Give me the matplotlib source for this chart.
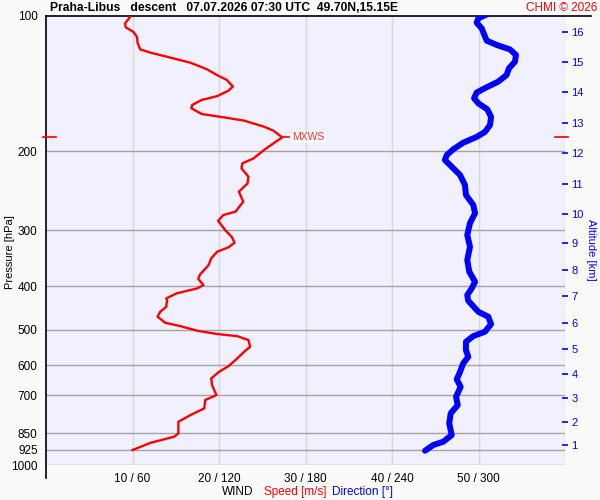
import numpy as np
import matplotlib
matplotlib.use('Agg')
import matplotlib.pyplot as plt
import matplotlib.transforms as mtransforms
from matplotlib.lines import Line2D

plt.rcParams['font.family'] = ['Liberation Sans', 'DejaVu Sans']

# wind speed profile (red)
speed_p = [100, 103.8, 105.9, 108.5, 111.2, 115.0, 118.7, 120.7, 123.8, 127.1,
           131.4, 135.5, 138.8, 143.6, 146.6, 150.8, 153.8, 157.8, 160.5, 165.3,
           168.1, 171.0, 176.4, 180.1, 186.3, 192.1, 198.8, 207.5, 212.9, 218.4,
           228.0, 235.9, 246.2, 259.2, 272.8, 277.5, 285.7, 299.7, 311.0, 319.8,
           327.4, 334.9, 346.5, 358.6, 376.6, 385.0, 397.4, 404.2, 414.7, 425.5,
           429.2, 444.2, 455.8, 467.6, 482.3, 490.5, 502.4, 510.9, 516.3, 527.0,
           545.5, 559.6, 584.0, 602.3, 620.1, 641.6, 664.0, 698.6, 716.7, 747.9,
           774.1, 801.1, 850.5, 865.1, 892.3, 926.2]
speed = [9.8, 9.15, 9.2, 10.1, 10.5, 10.6, 10.9, 12.1, 14.4, 16.7,
         18.6, 19.8, 20.9, 21.6, 21.1, 19.8, 18.0, 16.9, 16.8, 18.0,
         20.5, 22.9, 25.2, 26.3, 27.3, 26.3, 25.2, 24.0, 22.7, 22.6,
         23.4, 23.3, 22.3, 22.8, 21.9, 20.5, 19.9, 20.7, 21.5, 21.8,
         21.1, 19.8, 19.1, 18.8, 17.8, 17.6, 18.2, 17.5, 15.1, 13.9,
         14.0, 13.9, 13.2, 12.9, 13.8, 15.5, 17.5, 19.8, 22.1, 23.4,
         23.6, 22.9, 21.9, 21.1, 20.0, 19.1, 19.2, 19.7, 18.4, 18.3,
         16.7, 15.3, 15.3, 14.8, 12.1, 10.0]

# wind direction profile (blue)
dir_p = [98.6, 101.2, 103.5, 106.5, 109.7, 113.5, 116.0, 118.7, 122.1, 126.4,
         130.8, 135.3, 140.0, 144.1, 148.1, 152.5, 156.5, 161.4, 167.8, 174.9,
         181.2, 185.9, 191.5, 198.1, 204.0, 209.3, 216.6, 226.0, 237.9, 250.4,
         263.6, 275.1, 289.2, 307.4, 326.5, 349.5, 371.2, 390.7, 404.2, 418.3,
         430.8, 455.8, 467.6, 485.5, 504.8, 516.3, 531.6, 554.8, 574.1, 593.8,
         620.1, 644.4, 669.7, 705.3, 735.4, 767.4, 807.8, 857.7, 887.3, 902.7,
         929.5]
direction = [307.5, 299.9, 298.7, 302.2, 303.8, 305.7, 312.6, 321.8, 326.0, 325.3,
             321.1, 319.5, 313.7, 305.7, 298.7, 296.9, 299.9, 306.1, 308.7, 308.0,
             304.5, 298.7, 289.4, 282.5, 278.0, 276.7, 281.4, 287.2, 290.6, 291.3,
             296.4, 297.6, 294.1, 292.2, 294.1, 292.2, 293.6, 297.6, 295.3, 292.2,
             292.9, 299.9, 306.8, 308.7, 304.5, 296.4, 291.3, 291.3, 292.9, 289.4,
             287.2, 284.9, 287.6, 284.4, 285.6, 280.7, 279.7, 281.4, 275.6, 268.6,
             262.9]

p_levels = [100, 200, 300, 400, 500, 600, 700, 850, 925, 1000]
x_ticks = [10, 20, 30, 40, 50, 60]
x_labels = ['10 / 60', '20 / 120', '30 / 180', '40 / 240', '50 / 300', '']

alt_km = list(range(1, 17))
alt_p = [902.7, 802.3, 709.0, 626.9, 551.5, 482.8, 420.3, 368.0, 320.3, 276.1,
         236.6, 201.9, 173.1, 147.7, 126.6, 108.6]

mxws_p = 186.3
mxws_speed = 27.3

title = 'Praha-Libus   descent   07.07.2026 07:30 UTC  49.70N,15.15E'

fig = plt.figure(figsize=(6, 5), dpi=100, facecolor='#fafafa')
ax = fig.add_axes([46/600, 1-465/500, 519/600, 449/500])
ax.set_facecolor('#f0f0fe')
ax.set_yscale('log')
ax.set_ylim(1000, 100)
ax.set_xlim(0, 60)

ax.yaxis.set_major_locator(matplotlib.ticker.FixedLocator(p_levels))
ax.yaxis.set_minor_locator(matplotlib.ticker.NullLocator())
ax.set_yticklabels([str(p) for p in p_levels])
ax.set_xticks(x_ticks)
ax.set_xticklabels(x_labels)
ax.tick_params(axis='both', length=0, labelsize=8.5, colors='black')
ax.tick_params(axis='y', pad=6)
ax.tick_params(axis='x', pad=6)

for p in p_levels[1:]:
    ax.axhline(p, color='#a4a4a4', lw=1.0, zorder=1)
for x in x_ticks:
    ax.axvline(x, color='#d8d8d8', lw=1.0, zorder=0.9)

for s in ax.spines.values():
    s.set_visible(False)
# left axis line reaching a bit below the bottom, top line running to the right edge
ax.add_line(Line2D([0, 0], [1, -0.03], transform=ax.transAxes, color='black', lw=1.2, clip_on=False))
ax.add_line(Line2D([0, 1.05], [1, 1], transform=ax.transAxes, color='black', lw=1.2, clip_on=False))

ax.plot(speed, speed_p, color='red', lw=1.7, zorder=3)

axd = ax.twiny()
axd.set_xlim(0, 360)
axd.set_xticks([])
for s in axd.spines.values():
    s.set_visible(False)
axd.plot(direction, dir_p, color='blue', lw=4.3, solid_capstyle='round', zorder=3)

# altitude ticks on the right
axa = ax.twinx()
axa.set_yscale('log')
axa.set_ylim(1000, 100)
axa.yaxis.set_major_locator(matplotlib.ticker.FixedLocator(alt_p))
axa.yaxis.set_minor_locator(matplotlib.ticker.NullLocator())
axa.set_yticklabels([str(k) for k in alt_km])
axa.tick_params(axis='y', colors='blue', length=5, width=1.2, direction='inout', pad=2, labelsize=8)
for s in axa.spines.values():
    s.set_visible(False)

# MXWS marks
tr = mtransforms.blended_transform_factory(ax.transAxes, ax.transData)
ax.add_line(Line2D([-0.006, 0.019], [mxws_p, mxws_p], transform=tr, color='red', lw=1.2, clip_on=False))
ax.add_line(Line2D([0.981, 1.006], [mxws_p, mxws_p], transform=tr, color='red', lw=1.2, clip_on=False))
ax.plot([mxws_speed, mxws_speed + 0.8], [mxws_p, mxws_p], color='red', lw=1.2, zorder=3)
ax.text(mxws_speed + 1.2, mxws_p, 'MXWS', color='#ff3030', fontsize=7.5, va='center', ha='left',
        bbox=dict(facecolor='white', edgecolor='none', pad=0.5), zorder=4)

fig.text(50/600, 1-8/500, title, fontsize=8.7, fontweight='bold', va='center', ha='left')
fig.text(597/600, 1-8/500, 'CHMI © 2026', fontsize=8.5, color='red', va='center', ha='right')
fig.text(10/600, 1-252/500, 'Pressure [hPa]', fontsize=8, rotation=90, va='center', ha='center')
fig.text(591/600, 1-250/500, 'Altitude [km]', fontsize=8, color='blue', rotation=270, va='center', ha='center')

fig.text(253/600, 1-492/500, 'WIND', fontsize=8.5, va='center', ha='right')
fig.text(264/600, 1-492/500, 'Speed [m/s]', fontsize=8.5, color='red', va='center', ha='left')
fig.text(332/600, 1-492/500, 'Direction [°]', fontsize=8.5, color='blue', va='center', ha='left')

fig.savefig('out.png', dpi=100, facecolor=fig.get_facecolor())
